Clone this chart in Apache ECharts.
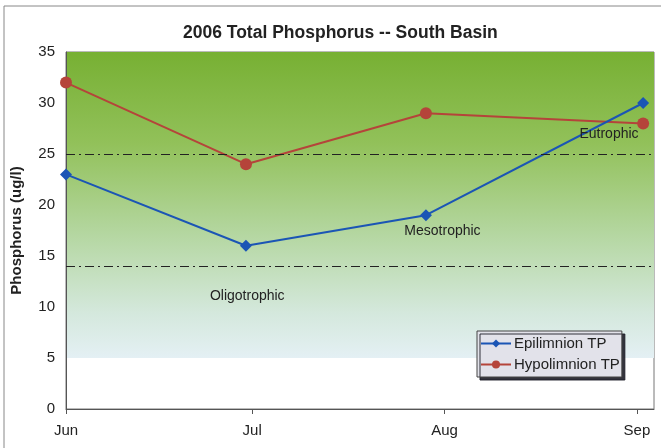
<!doctype html>
<html>
    <head>
        <meta charset="utf-8">
        <title>2006 Total Phosphorus - South Basin</title>
        <style>
            html, body { margin: 0; padding: 0; background: #fff; }
            #main { width: 661px; height: 448px; }
        </style>
    </head>
    <body>
        <div id="main"></div>
        <script src="https://cdn.jsdelivr.net/npm/echarts@6/dist/echarts.min.js"></script>
        <script>
            // sample dates and values
            var sampleDates = ['2006-06-01', '2006-06-30', '2006-07-29', '2006-09-02'];
            var epilimnion = [23, 16, 19, 30];
            var hypolimnion = [32, 24, 29, 28];

            var monthNames = ['Jun', 'Jul', 'Aug', 'Sep'];
            var monthStarts = ['2006-06-01', '2006-07-01', '2006-08-01', '2006-09-01'];
            var axisEnd = '2006-09-03 18:00';

            var trophicLines = [25, 14];
            var trophicLabels = [
                { name: 'Eutrophic', date: '2006-08-27 12:00', value: 26.9 },
                { name: 'Mesotrophic', date: '2006-07-31 16:00', value: 17.4 },
                { name: 'Oligotrophic', date: '2006-06-30 05:00', value: 11.1 }
            ];

            var DAY = 86400000;
            var t0 = new Date(sampleDates[0] + 'T00:00:00Z').getTime();
            function day(s) {
                var iso = s.indexOf(' ') > 0 ? s.replace(' ', 'T') + ':00Z' : s + 'T00:00:00Z';
                return (new Date(iso).getTime() - t0) / DAY;
            }
            var tickDays = monthStarts.map(day);

            function pairs(values) {
                return values.map(function (v, i) { return [day(sampleDates[i]), v]; });
            }

            var chart = echarts.init(document.getElementById('main'));

            chart.setOption({
                backgroundColor: '#fff',
                textStyle: { fontFamily: 'Liberation Sans, Arial, sans-serif' },
                title: {
                    text: '2006 Total Phosphorus -- South Basin',
                    left: 178,
                    top: 19,
                    textStyle: { fontSize: 17.5, fontWeight: 'bold', color: '#222' }
                },
                graphic: [{
                    type: 'rect',
                    shape: { x: 4, y: 6, width: 700, height: 500 },
                    style: { fill: 'none', stroke: '#888', lineWidth: 1 },
                    silent: true,
                    z: -1
                }],
                grid: {
                    left: 66,
                    right: 7,
                    top: 52,
                    bottom: 39,
                    show: true,
                    borderColor: '#777',
                    borderWidth: 1
                },
                legend: {
                    orient: 'vertical',
                    left: 477,
                    top: 331,
                    itemWidth: 30,
                    itemHeight: 10,
                    itemGap: 6,
                    padding: [5, 2, 5, 3],
                    backgroundColor: '#e2e2ea',
                    borderColor: '#444',
                    borderWidth: 1,
                    shadowColor: 'rgba(30,30,40,0.9)',
                    shadowBlur: 0,
                    shadowOffsetX: 3,
                    shadowOffsetY: 3,
                    textStyle: { fontSize: 15, color: '#222', padding: [0, 0, 0, -2] },
                    data: ['Epilimnion TP', 'Hypolimnion TP']
                },
                xAxis: {
                    type: 'value',
                    min: 0,
                    max: day(axisEnd),
                    splitLine: { show: false },
                    axisLine: { lineStyle: { color: '#555' } },
                    axisTick: { customValues: tickDays, length: 5, lineStyle: { color: '#555' } },
                    axisLabel: {
                        customValues: tickDays,
                        fontSize: 15,
                        color: '#222',
                        margin: 14,
                        formatter: function (v) {
                            var i = tickDays.indexOf(v);
                            return i >= 0 ? monthNames[i] : '';
                        }
                    }
                },
                yAxis: {
                    type: 'value',
                    min: 0,
                    max: 35,
                    interval: 5,
                    name: 'Phosphorus (ug/l)',
                    nameLocation: 'middle',
                    nameGap: 42,
                    nameTextStyle: { fontSize: 15, fontWeight: 'bold', color: '#222' },
                    splitLine: { show: false },
                    axisLine: { show: true, lineStyle: { color: '#555' } },
                    axisTick: { show: false },
                    axisLabel: { fontSize: 15, color: '#222', margin: 11 }
                },
                series: [{
                    name: 'Epilimnion TP',
                    type: 'line',
                    data: pairs(epilimnion),
                    symbol: 'diamond',
                    symbolSize: 12,
                    z: 4,
                    itemStyle: { color: '#1b55b5' },
                    lineStyle: { color: '#1b55b5', width: 2 },
                    markArea: {
                        silent: true,
                        z: 0,
                        itemStyle: {
                            color: new echarts.graphic.LinearGradient(0, 0, 0, 1, [
                                { offset: 0, color: '#77b033' },
                                { offset: 0.3, color: '#92c15a' },
                                { offset: 0.6, color: '#b5d7a2' },
                                { offset: 0.85, color: '#d4e8dc' },
                                { offset: 1, color: '#e4f0f4' }
                            ])
                        },
                        data: [[{ yAxis: 5 }, { yAxis: 35 }]]
                    },
                    markLine: {
                        silent: true,
                        symbol: 'none',
                        label: { show: false },
                        lineStyle: { color: '#222', width: 1.2, type: [9, 4, 2, 4] },
                        data: trophicLines.map(function (v) { return { yAxis: v }; })
                    },
                    markPoint: {
                        silent: true,
                        symbol: 'circle',
                        symbolSize: 1,
                        itemStyle: { color: 'rgba(0,0,0,0)' },
                        label: {
                            show: true,
                            position: 'inside',
                            fontSize: 14,
                            color: '#222',
                            formatter: '{b}'
                        },
                        data: trophicLabels.map(function (d) {
                            return { name: d.name, coord: [day(d.date), d.value] };
                        })
                    }
                }, {
                    name: 'Hypolimnion TP',
                    type: 'line',
                    data: pairs(hypolimnion),
                    symbol: 'circle',
                    symbolSize: 12,
                    z: 3,
                    itemStyle: { color: '#b5443a' },
                    lineStyle: { color: '#b5443a', width: 2 }
                }]
            });

            window.onresize = chart.resize;
        </script>
    </body>
</html>
